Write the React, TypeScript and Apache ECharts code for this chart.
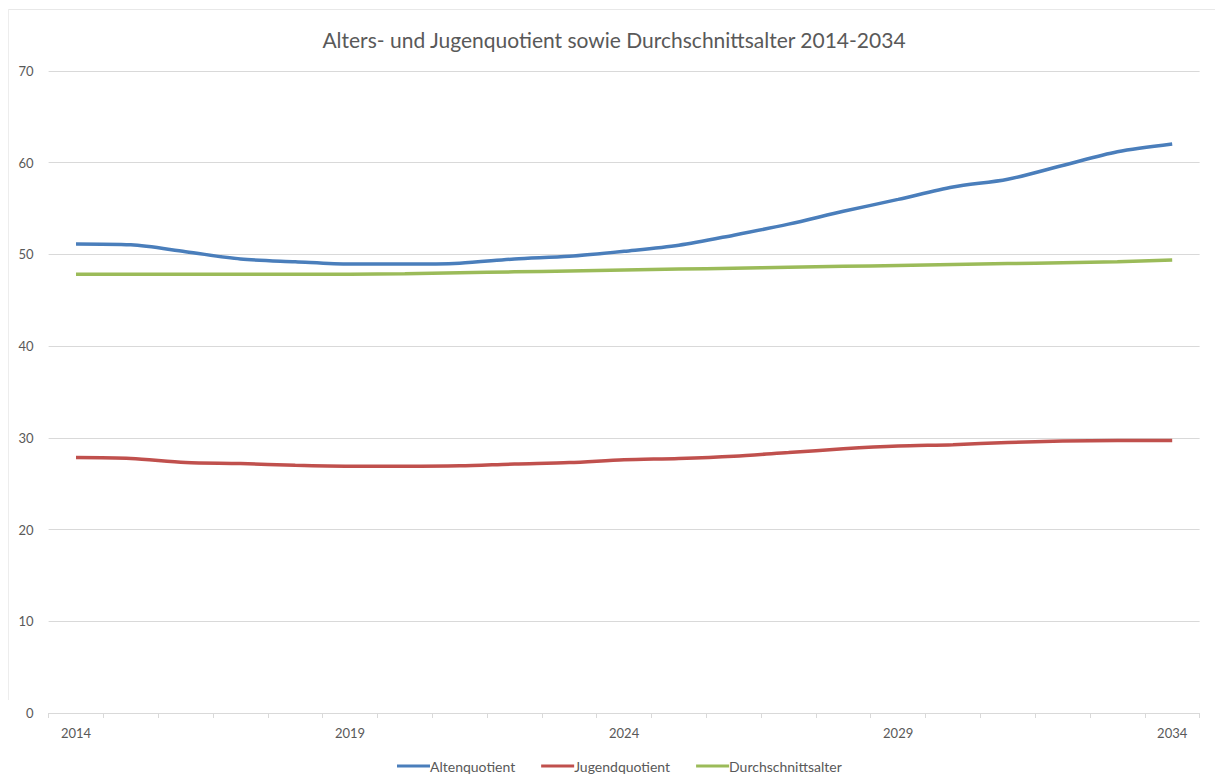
import React, { useEffect, useRef } from "react";
import * as echarts from "echarts";

const years = [
  "2014", "2015", "2016", "2017", "2018", "2019", "2020", "2021", "2022", "2023", "2024",
  "2025", "2026", "2027", "2028", "2029", "2030", "2031", "2032", "2033", "2034",
];
const altenquotient = [
  51.15, 51.05, 50.3, 49.5, 49.2, 48.95, 48.95, 49.05, 49.5, 49.8, 50.35,
  51.0, 52.1, 53.3, 54.7, 56.0, 57.35, 58.2, 59.7, 61.2, 62.05,
];
const jugendquotient = [
  27.85, 27.75, 27.3, 27.2, 27.0, 26.9, 26.9, 26.95, 27.15, 27.3, 27.6,
  27.75, 28.0, 28.4, 28.8, 29.1, 29.25, 29.5, 29.65, 29.7, 29.7,
];
const durchschnittsalter = [
  47.85, 47.85, 47.85, 47.85, 47.85, 47.85, 47.9, 48.0, 48.1, 48.2, 48.3,
  48.4, 48.5, 48.6, 48.7, 48.8, 48.9, 49.0, 49.1, 49.2, 49.4,
];
const seriesNames = ["Altenquotient", "Jugendquotient", "Durchschnittsalter"];
const colors = ["#4A7EBB", "#C0504D", "#9BBB59"];
const titleText = "Alters- und Jugenquotient sowie Durchschnittsalter 2014-2034";

const FONT = "Lato, 'Open Sans', sans-serif";

export default function App() {
  const ref = useRef<HTMLDivElement>(null);
  useEffect(() => {
    if (!ref.current) return;
    const chart = echarts.init(ref.current, undefined, { renderer: "svg" });
    const dataSets = [altenquotient, jugendquotient, durchschnittsalter];
    chart.setOption({
      animation: false,
      backgroundColor: "#ffffff",
      color: colors,
      title: {
        text: titleText,
        left: 609,
        textAlign: "center",
        top: 24,
        textStyle: { fontFamily: FONT, fontSize: 21, fontWeight: "normal", color: "#595959" },
      },
      legend: {
        data: seriesNames,
        bottom: 2,
        left: 392,
        icon: "rect",
        itemWidth: 33,
        itemHeight: 3,
        itemGap: 26,
        textStyle: { fontFamily: FONT, fontSize: 14, color: "#595959", padding: [0, 0, 0, -5] },
      },
      grid: { left: 48.6, right: 15.4, top: 71, bottom: 67, containLabel: false },
      xAxis: {
        type: "category",
        data: years,
        boundaryGap: true,
        axisLine: { lineStyle: { color: "#d9d9d9", width: 1 } },
        axisTick: { show: true, interval: 0, length: 5, lineStyle: { color: "#d9d9d9" } },
        axisLabel: { interval: 4, margin: 13, fontFamily: FONT, fontSize: 13, color: "#595959" },
        splitLine: { show: false },
      },
      yAxis: {
        type: "value",
        min: 0,
        max: 70,
        interval: 10,
        axisLine: { show: false },
        axisTick: { show: false },
        axisLabel: { margin: 15, fontFamily: FONT, fontSize: 13, color: "#595959" },
        splitLine: { lineStyle: { color: "#d9d9d9", width: 1 } },
      },
      graphic: [
        { type: "line", shape: { x1: 8, y1: 9.5, x2: 1215, y2: 9.5 }, style: { stroke: "#e8e8e8", lineWidth: 1 }, silent: true },
        { type: "line", shape: { x1: 8.5, y1: 9, x2: 8.5, y2: 700 }, style: { stroke: "#ededed", lineWidth: 1 }, silent: true },
      ],
      series: seriesNames.map((name, i) => ({
        name,
        type: "line",
        data: dataSets[i],
        smooth: 0.3,
        symbol: "none",
        lineStyle: { width: 3.5, color: colors[i] },
      })),
    });
    return () => chart.dispose();
  }, []);
  return (
    <div
      ref={ref}
      style={{ position: "fixed", left: 0, top: 0, width: 1215, height: 780 }}
    />
  );
}
